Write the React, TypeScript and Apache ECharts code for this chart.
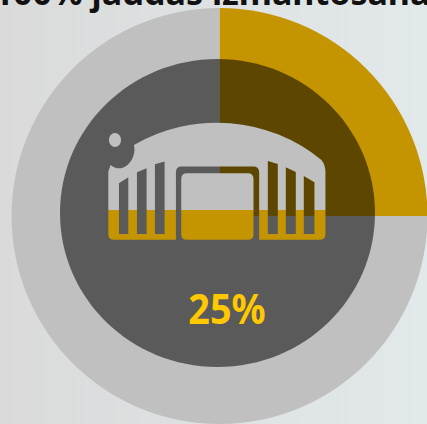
import React, { useEffect, useRef } from "react";
import * as echarts from "echarts";

const sliceNames = ["Izmantots", "Atlikums"];
const sliceValues = [25, 75];
const sliceColors = ["#c49500", "#c0c0c0"];
const titleText = "100% jaudas izmantošana";
const valueText = "25%";

const iconPath =
  "M55 372 L55 185 L62 165 C70 172 78 175 88 175 C115 175 140 140 132 105 A496 496 0 0 1 695 150 Q707 165 707 185 L707 372 Q707 390 689 390 L508 390 L508 188 Q508 170 490 170 L275 170 Q258 170 258 188 L258 390 L73 390 Q55 390 55 372 Z " +
  "M87 220 L87 372 L115 372 L115 202 Z M141 187 L141 372 L170 372 L170 175 Z M195 163 L195 372 L224 372 L224 155 Z " +
  "M534 153 L534 372 L564 372 L564 162 Z M588 172 L588 372 L618 372 L618 186 Z M642 198 L642 372 L674 372 L674 217 Z " +
  "M291 190 L474 190 Q491 190 491 207 L491 373 Q491 390 474 390 L291 390 Q274 390 274 373 L274 207 Q274 190 291 190 Z";

echarts.graphic.registerShape("plantIcon", echarts.graphic.extendPath(iconPath, {}));

export default function App() {
  const ref = useRef<HTMLDivElement>(null);
  useEffect(() => {
    const chart = echarts.init(ref.current!, null, { renderer: "svg" });
    const split = (300 - 38) / (390 - 38);
    chart.setOption({
      animation: false,
      series: [
        {
          type: "pie",
          center: [219.5, 216],
          radius: [0, 208],
          startAngle: 90,
          silent: true,
          label: { show: false },
          labelLine: { show: false },
          z: 2,
          data: sliceValues.map((value, i) => ({
            value,
            name: sliceNames[i],
            itemStyle: { color: sliceColors[i] },
          })),
        },
      ],
      graphic: [
        {
          type: "rect",
          z: -1,
          silent: true,
          shape: { x: 0, y: 0, width: 427, height: 424 },
          style: {
            fill: new echarts.graphic.LinearGradient(0, 0, 1, 0, [
              { offset: 0, color: "#dadada" },
              { offset: 1, color: "#e2e9eb" },
            ]),
          },
        },
        {
          type: "text",
          z: 10,
          x: 212,
          y: 8.5,
          style: {
            text: titleText,
            fontFamily: "Noto Sans",
            fontWeight: "bold",
            fontSize: 34,
            fill: "#111111",
            align: "center",
            verticalAlign: "bottom",
          },
        },
        {
          type: "ellipse",
          z: 5,
          shape: { cx: 217.5, cy: 213, rx: 157.5, ry: 154 },
          style: { fill: "rgba(0,0,0,0.53)" },
        },
        {
          type: "plantIcon",
          z: 6,
          x: 90,
          y: 110,
          scaleX: 1 / 3,
          scaleY: 1 / 3,
          style: {
            fill: new echarts.graphic.LinearGradient(0, 0, 0, 1, [
              { offset: 0, color: "#c0c0c0" },
              { offset: split, color: "#c0c0c0" },
              { offset: split, color: "#c49500" },
              { offset: 1, color: "#c49500" },
            ]),
          },
        },
        {
          type: "ellipse",
          z: 6,
          shape: { cx: 115, cy: 140, rx: 6, ry: 7 },
          style: { fill: "#c0c0c0" },
        },
        {
          type: "text",
          z: 7,
          x: 227,
          y: 308,
          scaleX: 0.9,
          style: {
            text: valueText,
            fontFamily: "Noto Sans",
            fontWeight: "bold",
            fontSize: 42,
            fill: "#ffc800",
            align: "center",
            verticalAlign: "middle",
          },
        },
      ],
    });
    return () => chart.dispose();
  }, []);
  useEffect(() => {
    document.body.style.margin = "0";
    document.body.style.overflow = "hidden";
  }, []);
  return <div ref={ref} style={{ width: 427, height: 424 }} />;
}
